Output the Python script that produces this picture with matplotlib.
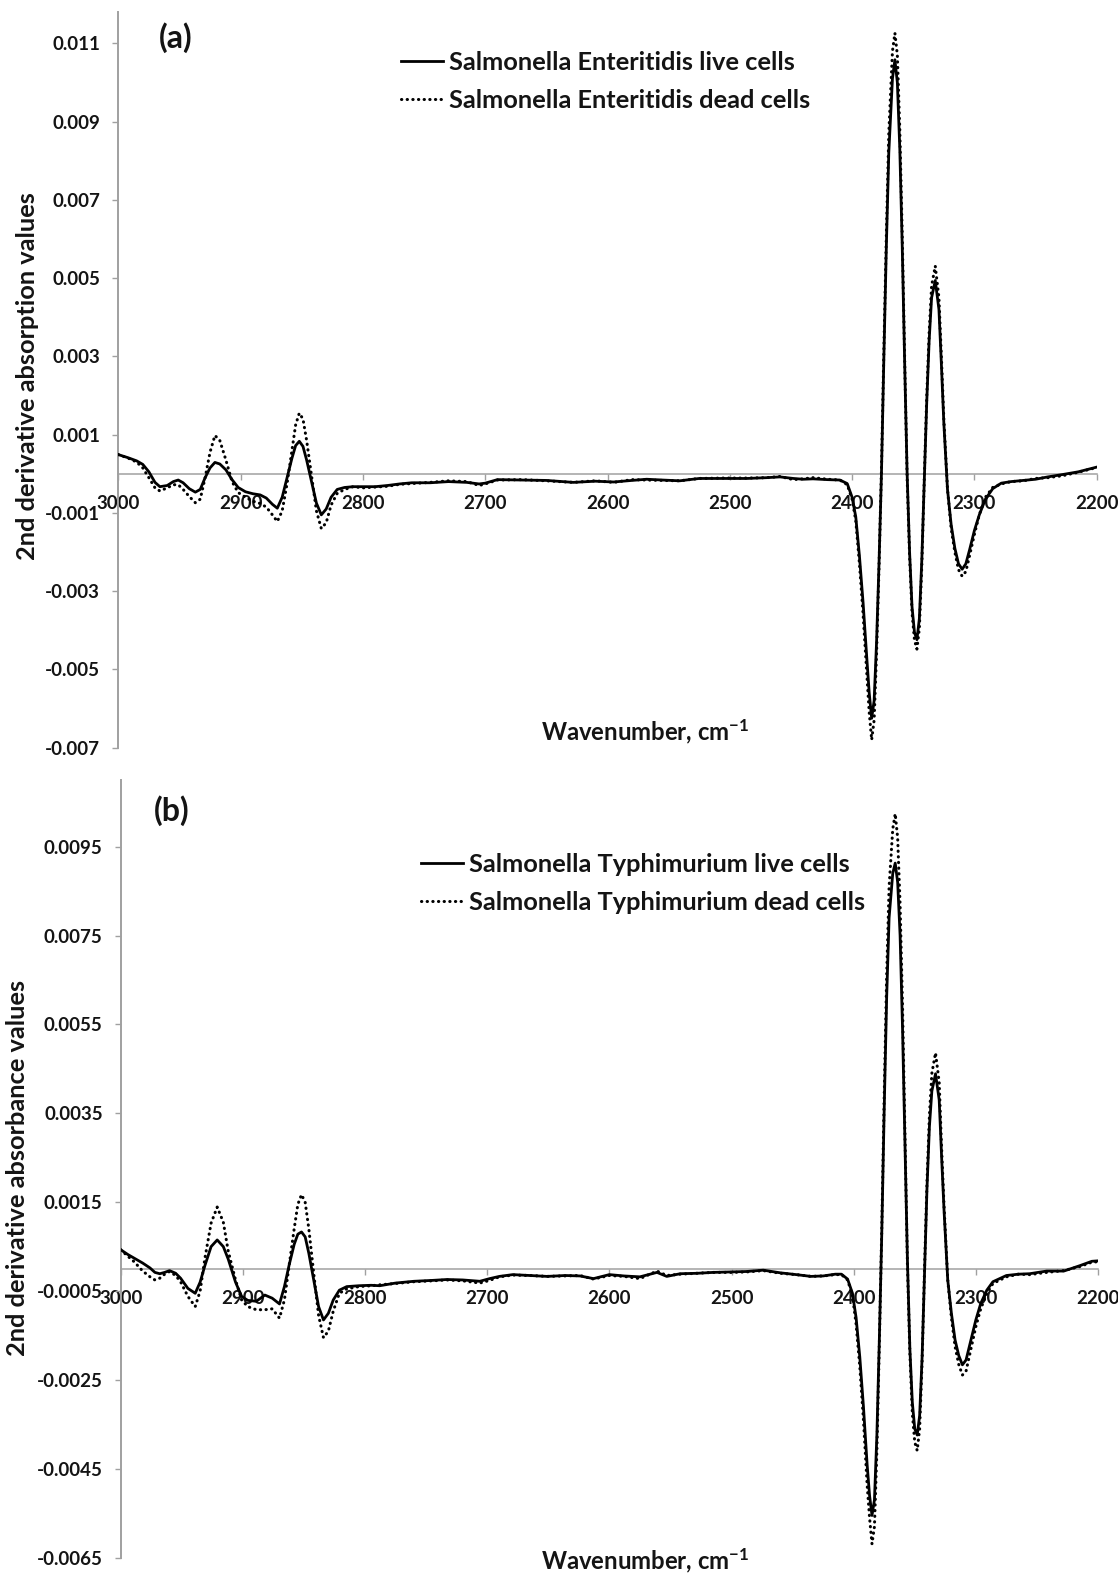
import matplotlib
matplotlib.use("Agg")
import matplotlib.pyplot as plt
from matplotlib.lines import Line2D

plt.rcParams['font.family'] = ['Lato', 'DejaVu Sans']
plt.rcParams['font.weight'] = 'bold'
plt.rcParams['mathtext.fontset'] = 'custom'
plt.rcParams['mathtext.rm'] = 'Lato:bold'
plt.rcParams['mathtext.it'] = 'Lato:bold'
plt.rcParams['mathtext.bf'] = 'Lato:bold'
plt.rcParams['mathtext.default'] = 'rm'

# ---------------- Panel (a): Salmonella Enteritidis (values in 1e-3 units) ----------------
wn_a = [3000, 2992, 2985, 2980, 2975, 2970, 2966, 2960, 2955, 2951, 2947, 2942, 2937, 2933,
        2929, 2925, 2921, 2917, 2912, 2907, 2902, 2896, 2890, 2884, 2879, 2874, 2870, 2866,
        2862, 2858, 2855, 2852, 2849, 2846, 2842, 2838, 2834, 2830, 2826, 2821, 2815, 2808,
        2800, 2790, 2780, 2770, 2760, 2745, 2730, 2715, 2705, 2700, 2690, 2670, 2650, 2628,
        2610, 2595, 2580, 2568, 2555, 2541, 2525, 2505, 2486, 2470, 2459, 2448, 2440, 2432,
        2420, 2410, 2404, 2400, 2397, 2394, 2391, 2388, 2386, 2384, 2382, 2380, 2378, 2376,
        2374, 2372, 2370, 2367, 2365, 2363, 2361, 2359, 2357, 2355, 2353, 2351, 2349, 2347,
        2345, 2343, 2341, 2339, 2337, 2335, 2332, 2329, 2327, 2325, 2322, 2319, 2316, 2313,
        2310, 2307, 2304, 2300, 2296, 2291, 2285, 2278, 2270, 2260, 2250, 2240, 2228, 2215,
        2200]
live_a = [0.49, 0.41, 0.33, 0.24, 0.05, -0.22, -0.33, -0.30, -0.20, -0.16, -0.23, -0.38, -0.47,
          -0.40, -0.10, 0.15, 0.29, 0.25, 0.10, -0.15, -0.35, -0.46, -0.51, -0.54, -0.62, -0.78,
          -0.88, -0.60, -0.10, 0.40, 0.72, 0.83, 0.70, 0.35, -0.20, -0.75, -1.05, -0.90, -0.60,
          -0.40, -0.35, -0.33, -0.33, -0.33, -0.30, -0.26, -0.23, -0.23, -0.20, -0.22, -0.26,
          -0.24, -0.15, -0.16, -0.17, -0.22, -0.19, -0.21, -0.17, -0.14, -0.16, -0.18, -0.12,
          -0.12, -0.12, -0.10, -0.08, -0.12, -0.14, -0.13, -0.15, -0.16, -0.25, -0.60, -1.10,
          -2.10, -3.30, -4.70, -5.60, -6.25, -5.80, -4.30, -2.30, 0.00, 3.00, 5.80, 8.20, 10.10,
          10.58, 10.00, 8.30, 5.80, 2.80, 0.00, -2.00, -3.40, -4.05, -4.24, -3.70, -2.20, -0.20,
          1.80, 3.40, 4.50, 4.94, 4.20, 2.80, 1.30, -0.40, -1.30, -1.90, -2.30, -2.44, -2.30,
          -1.95, -1.45, -1.05, -0.65, -0.38, -0.24, -0.20, -0.17, -0.14, -0.08, -0.02, 0.05,
          0.17]
dead_a = [0.49, 0.40, 0.30, 0.15, -0.10, -0.36, -0.44, -0.36, -0.28, -0.28, -0.40, -0.58, -0.74,
          -0.65, -0.10, 0.55, 0.98, 0.85, 0.35, -0.20, -0.48, -0.60, -0.70, -0.76, -0.85, -1.05,
          -1.22, -0.95, -0.25, 0.60, 1.25, 1.55, 1.40, 0.85, -0.05, -0.95, -1.40, -1.25, -0.80,
          -0.50, -0.40, -0.33, -0.36, -0.34, -0.32, -0.27, -0.25, -0.22, -0.18, -0.20, -0.30,
          -0.26, -0.16, -0.15, -0.18, -0.22, -0.18, -0.22, -0.15, -0.16, -0.17, -0.18, -0.12,
          -0.11, -0.11, -0.10, -0.07, -0.15, -0.13, -0.10, -0.14, -0.16, -0.28, -0.65, -1.20,
          -2.30, -3.60, -5.10, -6.10, -6.80, -6.30, -4.60, -2.40, 0.10, 3.20, 6.10, 8.70, 10.80,
          11.26, 10.70, 8.80, 6.10, 2.90, -0.10, -2.10, -3.55, -4.25, -4.48, -3.95, -2.35, -0.15,
          1.95, 3.60, 4.80, 5.31, 4.50, 3.00, 1.40, -0.40, -1.40, -2.00, -2.45, -2.62, -2.50,
          -2.10, -1.55, -1.05, -0.60, -0.35, -0.26, -0.20, -0.18, -0.12, -0.10, -0.05, 0.04,
          0.16]

# ---------------- Panel (b): Salmonella Typhimurium (values in 1e-3 units) ----------------
wn_b = [3000, 2994, 2989, 2982, 2976, 2972, 2968, 2964, 2960, 2955, 2951, 2945, 2939, 2935,
        2931, 2926, 2921, 2916, 2912, 2906, 2901, 2896, 2889, 2882, 2876, 2870, 2866, 2862,
        2858, 2855, 2852, 2849, 2846, 2842, 2838, 2834, 2830, 2826, 2821, 2815, 2805, 2795,
        2788, 2775, 2760, 2745, 2733, 2720, 2706, 2698, 2690, 2679, 2665, 2651, 2636, 2624,
        2613, 2600, 2588, 2575, 2561, 2553, 2542, 2528, 2515, 2500, 2488, 2474, 2460, 2447,
        2435, 2425, 2415, 2410, 2405, 2401, 2398, 2395, 2392, 2389, 2387, 2385, 2383, 2381,
        2379, 2377, 2375, 2373, 2371, 2368, 2366, 2364, 2362, 2360, 2358, 2356, 2354, 2352,
        2350, 2348, 2346, 2344, 2342, 2340, 2338, 2336, 2333, 2330, 2328, 2326, 2323, 2320,
        2317, 2314, 2311, 2308, 2304, 2300, 2296, 2291, 2286, 2275, 2265, 2256, 2242, 2228,
        2215, 2205, 2200]
live_b = [0.43, 0.32, 0.24, 0.13, 0.02, -0.08, -0.11, -0.08, -0.04, -0.10, -0.21, -0.44, -0.55,
          -0.30, 0.08, 0.50, 0.65, 0.50, 0.22, -0.30, -0.62, -0.71, -0.73, -0.59, -0.66, -0.79,
          -0.40, 0.10, 0.55, 0.78, 0.83, 0.72, 0.35, -0.25, -0.85, -1.15, -1.00, -0.70, -0.48,
          -0.40, -0.38, -0.37, -0.38, -0.32, -0.28, -0.26, -0.24, -0.25, -0.28, -0.22, -0.17,
          -0.13, -0.15, -0.17, -0.15, -0.16, -0.22, -0.13, -0.16, -0.18, -0.08, -0.17, -0.11,
          -0.10, -0.08, -0.07, -0.06, -0.03, -0.09, -0.13, -0.17, -0.16, -0.12, -0.12, -0.23,
          -0.55, -1.10, -1.98, -3.10, -4.40, -5.10, -5.55, -5.20, -3.74, -1.60, 0.80, 3.60, 6.10,
          7.90, 8.90, 9.13, 8.70, 7.50, 5.40, 2.80, 0.20, -1.80, -3.00, -3.60, -3.74, -3.30,
          -2.00, -0.10, 1.80, 3.20, 4.00, 4.39, 3.80, 2.50, 1.30, -0.25, -1.00, -1.60, -1.95,
          -2.16, -2.05, -1.60, -1.15, -0.78, -0.48, -0.29, -0.15, -0.12, -0.11, -0.05, -0.05,
          0.07, 0.17, 0.18]
dead_b = [0.43, 0.28, 0.16, -0.05, -0.18, -0.25, -0.21, -0.12, -0.06, -0.15, -0.29, -0.62, -0.85,
          -0.50, 0.25, 1.03, 1.39, 1.05, 0.40, -0.25, -0.70, -0.85, -0.92, -0.92, -0.90, -1.11,
          -0.70, 0.10, 0.90, 1.45, 1.67, 1.50, 0.90, -0.10, -1.05, -1.55, -1.40, -0.95, -0.55,
          -0.45, -0.40, -0.38, -0.36, -0.33, -0.29, -0.27, -0.25, -0.27, -0.32, -0.26, -0.18,
          -0.14, -0.15, -0.17, -0.16, -0.15, -0.23, -0.15, -0.17, -0.22, -0.05, -0.15, -0.12,
          -0.10, -0.08, -0.08, -0.07, -0.04, -0.10, -0.13, -0.17, -0.16, -0.13, -0.13, -0.25,
          -0.60, -1.25, -2.20, -3.40, -4.85, -5.60, -6.19, -5.80, -4.10, -1.70, 0.90, 3.90, 6.60,
          8.60, 9.90, 10.24, 9.70, 8.20, 5.90, 3.00, 0.10, -1.90, -3.25, -3.90, -4.09, -3.60,
          -2.10, 0.00, 1.95, 3.45, 4.40, 4.86, 4.20, 2.70, 1.40, -0.25, -1.10, -1.75, -2.15,
          -2.39, -2.30, -1.80, -1.30, -0.90, -0.55, -0.33, -0.18, -0.12, -0.13, -0.08, -0.04,
          0.05, 0.15, 0.16]

ticks_a = [-0.007, -0.005, -0.003, -0.001, 0.001, 0.003, 0.005, 0.007, 0.009, 0.011]
tick_labels_a = ['-0.007', '-0.005', '-0.003', '-0.001', '0.001', '0.003', '0.005', '0.007',
                 '0.009', '0.011']
ticks_b = [-0.0065, -0.0045, -0.0025, -0.0005, 0.0015, 0.0035, 0.0055, 0.0075, 0.0095]
tick_labels_b = ['-0.0065', '-0.0045', '-0.0025', '-0.0005', '0.0015', '0.0035', '0.0055',
                 '0.0075', '0.0095']
x_ticks = [3000, 2900, 2800, 2700, 2600, 2500, 2400, 2300, 2200]

W, H = 1118, 1574
fig = plt.figure(figsize=(W / 100, H / 100), dpi=100)

AXIS_GRAY = '#a0a0a0'
TEXT = '#141414'
DOTS = (0, (0.1, 1.75))


def px_rect(left, top, right, bottom):
    return [left / W, 1 - bottom / H, (right - left) / W, (bottom - top) / H]


def draw_panel(rect, wn, live, dead, ylim, yticks, ylabels, names, ylab, ylab_xy,
               tag, tag_xy, leg_xy, xlab_xy):
    ax = fig.add_axes(rect)
    scale = 1e-3
    ax.plot(wn, [v * scale for v in dead], color='black', lw=2.2,
            linestyle=DOTS, dash_capstyle='round', zorder=4)
    ax.plot(wn, [v * scale for v in live], color='black', lw=2.0, zorder=5)
    ax.set_xlim(3000, 2200)
    ax.set_ylim(*ylim)
    for s in ('top', 'right'):
        ax.spines[s].set_visible(False)
    ax.spines['left'].set_color(AXIS_GRAY)
    ax.spines['left'].set_linewidth(1.4)
    ax.spines['bottom'].set_position(('data', 0))
    ax.spines['bottom'].set_color(AXIS_GRAY)
    ax.spines['bottom'].set_linewidth(1.1)
    ax.set_yticks(yticks)
    ax.set_yticklabels(ylabels)
    ax.set_xticks(x_ticks)
    ax.set_xticklabels([str(t) for t in x_ticks])
    ax.tick_params(axis='y', direction='out', length=4, width=1, color=AXIS_GRAY,
                   pad=9, labelsize=13.5, labelcolor=TEXT)
    ax.tick_params(axis='x', direction='out', length=4, width=1, color=AXIS_GRAY,
                   pad=11, labelsize=13.5, labelcolor=TEXT)
    for lab in ax.get_xticklabels() + ax.get_yticklabels():
        lab.set_fontweight('bold')
    ax.patch.set_alpha(0)

    fig.text(ylab_xy[0] / W, 1 - ylab_xy[1] / H, ylab, rotation=90, ha='center',
             va='center', fontsize=18.3, fontweight='bold', color=TEXT)
    fig.text(tag_xy[0] / W, 1 - tag_xy[1] / H, tag, ha='center', va='center',
             fontsize=23, fontweight='bold', color=TEXT)
    fig.text(xlab_xy[0] / W, 1 - xlab_xy[1] / H, 'Wavenumber, cm$^{-1}$', ha='center',
             va='center', fontsize=17.2, fontweight='bold', color=TEXT)

    handles = [Line2D([], [], color='black', lw=2.0),
               Line2D([], [], color='black', lw=2.2, linestyle=DOTS,
                      dash_capstyle='round')]
    leg = ax.legend(handles, names, loc='upper left',
                    bbox_to_anchor=(leg_xy[0] / W, 1 - leg_xy[1] / H),
                    bbox_transform=fig.transFigure, frameon=False, borderpad=0,
                    borderaxespad=0, handlelength=1.65, handletextpad=0.25,
                    labelspacing=0.58, prop={'size': 18.3, 'weight': 'bold'})
    for t in leg.get_texts():
        t.set_color(TEXT)
    return ax


draw_panel(px_rect(118.3, 12, 1096.7, 747.7), wn_a, live_a, dead_a,
           (-0.007, 0.0118), ticks_a, tick_labels_a,
           ['Salmonella Enteritidis live cells', 'Salmonella Enteritidis dead cells'],
           '2nd derivative absorption values', (28, 376), '(a)', (176, 38),
           (401, 51), (645, 732))

draw_panel(px_rect(120.7, 780, 1098, 1557.7), wn_b, live_b, dead_b,
           (-0.0065, 0.011), ticks_b, tick_labels_b,
           ['Salmonella Typhimurium live cells', 'Salmonella Typhimurium dead cells'],
           '2nd derivative absorbance values', (18, 1168), '(b)', (172, 811),
           (421, 853), (645, 1561))

fig.savefig('out.png', dpi=100, facecolor='white')
